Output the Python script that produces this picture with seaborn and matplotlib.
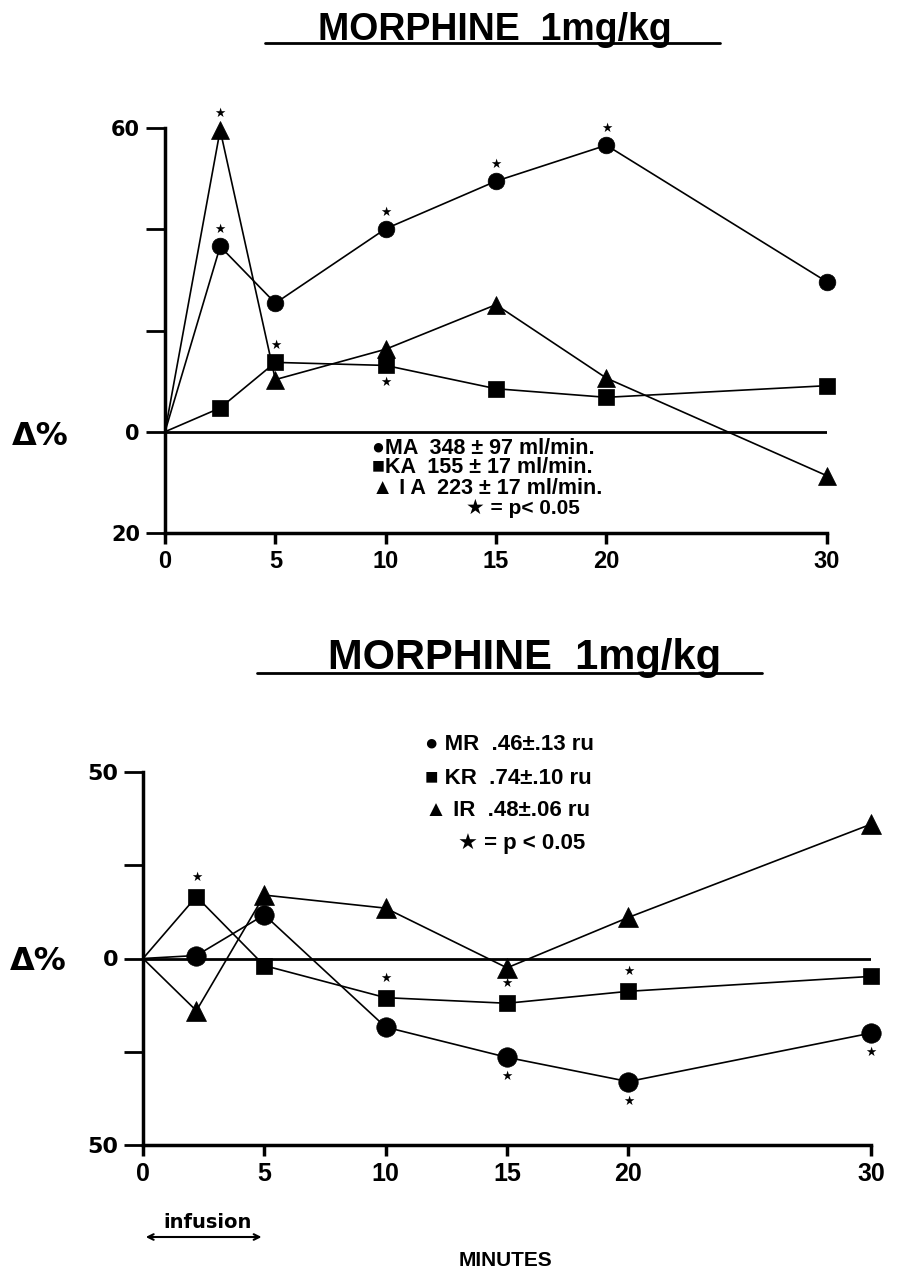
"""
Morphine 1mg/kg: % change in arterial flow (top) and resistance (bottom)
"""

import matplotlib
matplotlib.use('Agg')
import matplotlib.pyplot as plt
import pandas as pd
import seaborn as sns
from matplotlib.lines import Line2D

# ---- data ----
top_minutes = [0, 2.5, 5, 10, 15, 20, 30]
ma_flow = [0, 36.6, 25.4, 40.1, 49.5, 56.6, 29.6]
ka_flow = [0, 4.7, 13.7, 13.1, 8.5, 6.8, 9.1]
ia_flow = [0, 59.6, 10.3, 16.3, 25.1, 10.6, -8.7]

bottom_minutes = [0, 2.2, 5, 10, 15, 20, 30]
mr_res = [0, 0.8, 11.7, -18.4, -26.5, -33.0, -20.0]
kr_res = [0, 16.6, -1.9, -10.5, -12.0, -8.8, -4.8]
ir_res = [0, -14.0, 17.0, 13.5, -2.5, 11.0, 36.0]

# significant points (series, index, star above/below)
top_stars = [('IA', 1, 1), ('MA', 1, 1), ('MA', 3, 1), ('MA', 4, 1), ('MA', 5, 1),
             ('KA', 2, 1), ('KA', 3, -1)]
bottom_stars = [('KR', 1, 1), ('KR', 3, 1), ('KR', 4, 1), ('KR', 5, 1),
                ('MR', 4, -1), ('MR', 5, -1), ('MR', 6, -1)]

top_legend = ['\u25cfMA  348 \u00b1 97 ml/min.',
              '\u25a0KA  155 \u00b1 17 ml/min.',
              '\u25b2 I A  223 \u00b1 17 ml/min.']
bottom_legend = ['\u25cf MR  .46\u00b1.13 ru',
                 '\u25a0 KR  .74\u00b1.10 ru',
                 '\u25b2 IR  .48\u00b1.06 ru']
star_note = '\u2605 = p< 0.05'

top_yticks = [60, 40, 20, 0, -20]
top_ylabels = ['60', '', '', '0', '20']
bottom_yticks = [50, 25, 0, -25, -50]
bottom_ylabels = ['50', '', '0', '', '50']
xticks = [0, 5, 10, 15, 20, 30]

sns.set_style('ticks')
plt.rcParams['font.family'] = ['Liberation Sans', 'DejaVu Sans']
plt.rcParams['font.weight'] = 'bold'
for key in ['text.color', 'axes.edgecolor', 'xtick.color', 'ytick.color',
            'axes.labelcolor']:
    plt.rcParams[key] = 'black'

W, H = 900, 1271
fig = plt.figure(figsize=(W / 100, H / 100), dpi=100)


def fx(px):
    return px / W


def fy(py):
    return 1 - py / H


def make_df(minutes, series):
    rows = []
    for name, vals in series.items():
        for m, v in zip(minutes, vals):
            rows.append({'minutes': m, 'change': v, 'series': name})
    return pd.DataFrame(rows)


def draw_panel(ax, df, markers, sizes, stars, star_off, ylim, yticks, ylabels,
               tick_fs):
    sns.lineplot(data=df, x='minutes', y='change', style='series', markers=markers,
                 dashes=False, color='k', lw=1.2, markeredgecolor='k',
                 markeredgewidth=0.5, legend=False, sort=False, ax=ax,
                 clip_on=False, zorder=3)
    for line in ax.lines:
        mk = line.get_marker()
        if mk in sizes:
            line.set_markersize(sizes[mk])
            # no marker at the origin
            line.set_markevery(list(range(1, len(line.get_xdata()))))
    ax.axhline(0, color='k', lw=2, zorder=2)

    # significance stars
    for name, i, side in stars:
        row = df[df.series == name].iloc[i]
        ax.annotate('\u2605', xy=(row.minutes, row.change), xytext=(0, side * star_off),
                    textcoords='offset points', ha='center', va='center',
                    fontsize=9, family='DejaVu Sans', annotation_clip=False)

    ax.set_xlim(0, 30)
    ax.set_ylim(*ylim)
    ax.set_xticks(xticks)
    ax.set_xticklabels([str(t) for t in xticks])
    ax.set_yticks(yticks)
    ax.set_yticklabels(ylabels)
    ax.set_xlabel('')
    ax.set_ylabel('')
    sns.despine(ax=ax)
    for s in ['left', 'bottom']:
        ax.spines[s].set_linewidth(2.5)
    ax.tick_params(axis='y', length=14, width=2, pad=4, labelsize=tick_fs)
    ax.tick_params(axis='x', length=8, width=2.5, pad=4, labelsize=tick_fs + 2)
    for lab in ax.get_yticklabels():
        lab.set_family('DejaVu Sans')
        lab.set_weight('bold')
    for lab in ax.get_xticklabels():
        lab.set_weight('bold')


# ---- top panel: flow ----
ax1 = fig.add_axes([fx(165), fy(533), fx(662), 405 / H])
top_df = make_df(top_minutes, {'MA': ma_flow, 'KA': ka_flow, 'IA': ia_flow})
draw_panel(ax1, top_df, {'MA': 'o', 'KA': 's', 'IA': '^'},
           {'o': 12, 's': 11, '^': 13}, top_stars, 12, (-20, 60),
           top_yticks, top_ylabels, 15)

# ---- bottom panel: resistance ----
ax2 = fig.add_axes([fx(143), fy(1145), fx(728), 373 / H])
bottom_df = make_df(bottom_minutes, {'MR': mr_res, 'KR': kr_res, 'IR': ir_res})
draw_panel(ax2, bottom_df, {'MR': 'o', 'KR': 's', 'IR': '^'},
           {'o': 14, 's': 11.5, '^': 15}, bottom_stars, 14, (-50, 50),
           bottom_yticks, bottom_ylabels, 16)

# titles with underline
fig.text(fx(495), fy(40), 'MORPHINE  1mg/kg', ha='center', va='baseline',
         fontsize=27, weight='bold')
fig.add_artist(Line2D([fx(265), fx(720)], [fy(43), fy(43)], color='k', lw=2))
fig.text(fx(525), fy(669), 'MORPHINE  1mg/kg', ha='center', va='baseline',
         fontsize=30, weight='bold')
fig.add_artist(Line2D([fx(257), fx(762)], [fy(673), fy(673)], color='k', lw=2))

# delta % labels
fig.text(fx(40), fy(437), '\u0394%', ha='center', va='center', fontsize=23,
         weight='bold', family='DejaVu Sans')
fig.text(fx(38), fy(962), '\u0394%', ha='center', va='center', fontsize=23,
         weight='bold', family='DejaVu Sans')

# legends as text
for txt, y in zip(top_legend, [448, 468, 489]):
    fig.text(fx(372), fy(y), txt, ha='left', va='center', fontsize=15.5,
             weight='bold')
fig.text(fx(523), fy(508), star_note, ha='center', va='center', fontsize=15,
         weight='bold')

for txt, y in zip(bottom_legend, [745, 778, 811]):
    fig.text(fx(425), fy(y), txt, ha='left', va='center', fontsize=16, weight='bold')
fig.text(fx(522), fy(844), star_note.replace('p<', 'p <'), ha='center',
         va='center', fontsize=16, weight='bold')

# infusion arrow + minutes
fig.text(fx(208), fy(1222), 'infusion', ha='center', va='center', fontsize=14,
         weight='bold', family='DejaVu Sans')
ax2.annotate('', xy=(0, fy(1237)), xytext=(5, fy(1237)),
             xycoords=('data', 'figure fraction'), textcoords=('data', 'figure fraction'),
             arrowprops=dict(arrowstyle='<->', color='k', lw=1.5), annotation_clip=False)
fig.text(fx(505), fy(1260), 'MINUTES', ha='center', va='center', fontsize=15,
         weight='bold')

fig.savefig('out.png', dpi=100)
